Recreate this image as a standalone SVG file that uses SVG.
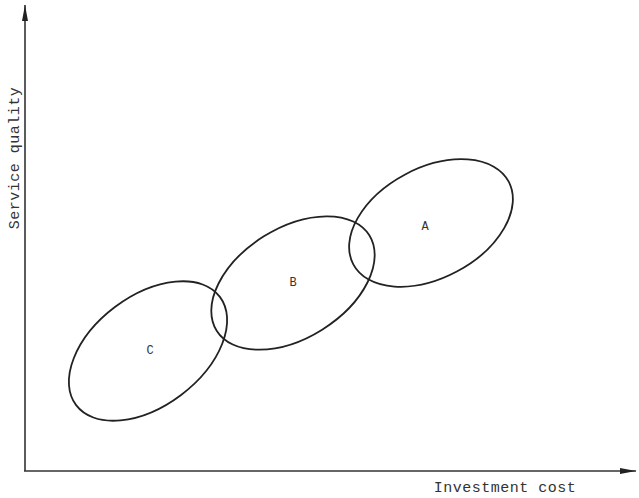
<svg xmlns="http://www.w3.org/2000/svg" width="639" height="498" viewBox="0 0 639 498">
<defs>
<marker id="arr" viewBox="0 0 16 6" refX="16" refY="3" markerWidth="16" markerHeight="6" markerUnits="userSpaceOnUse" orient="auto">
<path d="M0,0 L16,3 L0,6 Z" fill="#222"/>
</marker>
</defs>
<style>
.ax{stroke:#333;stroke-width:1.6;fill:none}
.el{stroke:#222;stroke-width:1.8;fill:none}
.lb{font-family:"Liberation Mono",monospace;font-size:12px;fill:#333}
.at{font-family:"Liberation Mono",monospace;font-size:15px;fill:#333;letter-spacing:0.5px}
</style>
<g id="connectors">
<line class="ax" x1="25" y1="471" x2="25" y2="5" marker-end="url(#arr)"/>
<line class="ax" x1="24" y1="471" x2="636" y2="471" marker-end="url(#arr)"/>
</g>
<g id="C">
<ellipse class="el" cx="148" cy="351" rx="90" ry="55" transform="rotate(-37 148 351)"/>
<text class="lb" x="150" y="354" text-anchor="middle">C</text>
</g>
<g id="B">
<ellipse class="el" cx="293" cy="283" rx="90" ry="55" transform="rotate(-32 293 283)"/>
<text class="lb" x="293" y="286" text-anchor="middle">B</text>
</g>
<g id="A">
<ellipse class="el" cx="431" cy="223" rx="88" ry="55" transform="rotate(-28 431 223)"/>
<text class="lb" x="425" y="230" text-anchor="middle">A</text>
</g>
<text class="at" x="505" y="492" text-anchor="middle">Investment cost</text>
<text class="at" x="0" y="0" text-anchor="middle" transform="translate(19 158) rotate(-90)">Service quality</text>
</svg>
